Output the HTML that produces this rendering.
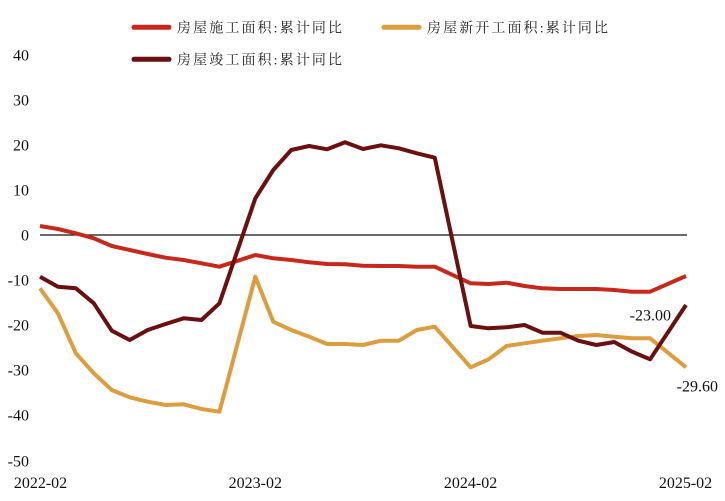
<!DOCTYPE html>
<html><head><meta charset="utf-8"><style>
html,body{margin:0;padding:0;background:#fff;}
svg{display:block;}
</style></head><body>
<svg width="725" height="501" viewBox="0 0 725 501" xmlns="http://www.w3.org/2000/svg">
<rect width="725" height="501" fill="#fff"/>
<g font-family="'Liberation Serif', serif" font-size="16" fill="#111" text-anchor="end">
<text x="29" y="60.5">40</text>
<text x="29" y="105.5">30</text>
<text x="29" y="150.5">20</text>
<text x="29" y="195.5">10</text>
<text x="29" y="240.5">0</text>
<text x="29" y="285.5">-10</text>
<text x="29" y="330.5">-20</text>
<text x="29" y="375.5">-30</text>
<text x="29" y="420.5">-40</text>
<text x="29" y="466.5">-50</text>
</g>
<g font-family="'Liberation Serif', serif" font-size="16" fill="#111" text-anchor="middle">
<text x="40.5" y="488">2022-02</text>
<text x="255.3" y="488">2023-02</text>
<text x="470.6" y="488">2024-02</text>
<text x="685.5" y="488">2025-02</text>
</g>
<line x1="40" y1="235" x2="687" y2="235" stroke="#111" stroke-width="1.2"/>
<g fill="none" stroke-width="4" stroke-linejoin="round" stroke-linecap="butt">
<polyline stroke="#c8281c" points="40,226 57.94,229 75.89,233.3 93.83,238.3 111.78,246 129.72,250 147.67,254 165.61,257.7 183.55,260 201.5,263.3 219.44,266.7 255.33,255 273.27,258.3 291.22,260 309.16,262.3 327.1,264 345.05,264.3 362.99,265.7 380.94,266 398.88,266 416.82,266.7 434.77,266.7 470.66,283.3 488.6,284 506.54,282.7 524.49,286 542.43,288.3 560.38,289 578.32,289 596.26,289 614.21,290 632.15,291.7 650.1,291.7 686,276"/>
<polyline stroke="#dd9c3e" points="40,288.3 57.94,313.3 75.89,353.3 93.83,373.3 111.78,390 129.72,397.3 147.67,401.7 165.61,405 183.55,404.3 201.5,409 219.44,411.7 255.33,276.7 273.27,321.7 291.22,330 309.16,336.7 327.1,344 345.05,344 362.99,345 380.94,340.7 398.88,340.7 416.82,330 434.77,326.7 470.66,367.3 488.6,359.3 506.54,346 524.49,343.3 542.43,340.7 560.38,338.3 578.32,336 596.26,335 614.21,336.7 632.15,338.3 650.1,338.3 686,367.3"/>
<polyline stroke="#6b0f10" points="40,276.7 57.94,286.7 75.89,288.3 93.83,303.3 111.78,330.7 129.72,340 147.67,330 165.61,324 183.55,318.3 201.5,320 219.44,303.3 255.33,198.3 273.27,170 291.22,150 309.16,146 327.1,149.3 345.05,142.3 362.99,149 380.94,145.3 398.88,148.3 416.82,153.3 434.77,157.7 470.66,326 488.6,328.3 506.54,327.3 524.49,325 542.43,332.7 560.38,332.7 578.32,340.7 596.26,345 614.21,342 632.15,351.7 650.1,359.3 686,305"/>
</g>
<g font-family="'Liberation Serif', serif" font-size="16" fill="#111" text-anchor="end">
<text x="671" y="320.5">-23.00</text>
<text x="718" y="391.5">-29.60</text>
</g>
<g stroke-width="5" stroke-linecap="round">
<line x1="134" y1="27.3" x2="169" y2="27.3" stroke="#c8281c"/>
<line x1="384" y1="27.3" x2="419" y2="27.3" stroke="#dd9c3e"/>
<line x1="134" y1="59.3" x2="169" y2="59.3" stroke="#6b0f10"/>
</g>
<g font-family="'Liberation Serif', 'Noto Serif CJK SC', serif" font-size="14" fill="#222">
<text x="177" y="32.5" textLength="165" lengthAdjust="spacing">房屋施工面积:累计同比</text>
<text x="427" y="32.5" textLength="181" lengthAdjust="spacing">房屋新开工面积:累计同比</text>
<text x="177" y="64.5" textLength="165" lengthAdjust="spacing">房屋竣工面积:累计同比</text>
</g>
</svg>
</body></html>
